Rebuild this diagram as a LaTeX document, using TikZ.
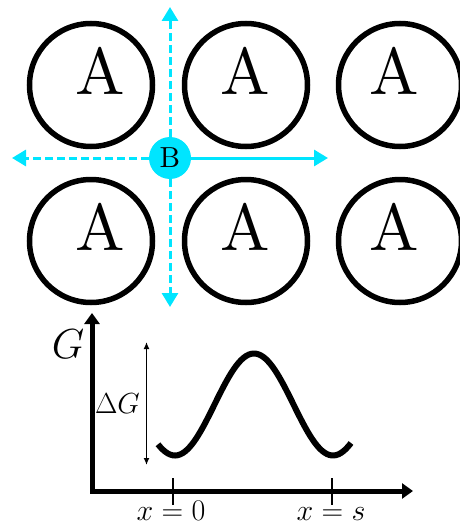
\documentclass[tikz,border=0pt]{standalone}
\usepackage{fix-cm}
\usepackage{amsmath}
\usepackage{tikz}
\usetikzlibrary{
  arrows.meta,
  positioning
}
\definecolor{ink}{HTML}{000000}
\definecolor{aqua}{HTML}{00E5FF}
\font\atomfont=cmr10 at 66pt
\font\hopfont=cmr10 at 29pt
\newcommand{\midsize}{\fontsize{29}{34}\selectfont}
\newcommand{\ticksize}{\fontsize{30}{35}\selectfont}
\tikzset{
  atom/.style={
    circle,
    draw=ink,
    line width=5.5pt,
    minimum size=123pt,
    inner sep=0pt
  },
  atomlabel/.style={
    inner sep=0pt,
    font=\atomfont
  },
  hopper/.style={
    circle,
    fill=aqua,
    minimum size=42pt,
    inner sep=0pt,
    font=\hopfont
  },
  hop/.style={
    -{Triangle[length=14pt,width=16pt]},
    line width=3pt,
    draw=aqua
  },
  hopdash/.style={
    hop,
    dash pattern=on 8pt off 4pt
  },
  axis/.style={
    {Triangle[length=11pt,width=15pt]}-{Triangle[length=11pt,width=15pt]},
    line width=5pt,
    draw=ink
  },
  barrier/.style={
    {Latex[length=7pt,width=6pt]}-{Latex[length=7pt,width=6pt]},
    line width=1.5pt,
    draw=ink
  },
  ticmark/.style={
    line width=2pt,
    draw=ink
  },
  axislabel/.style={
    inner sep=0pt,
    font=\midsize
  }
}

\begin{document}
\begin{tikzpicture}[x=1pt, y=-1pt]
  \useasboundingbox (0,0) rectangle (460,527);

  % lattice of A sites
  \foreach \x/\ax [count=\c] in {91/100,246/245,400/394}{
    \foreach \y [count=\r] in {85,241}{
      \node[atom] (ring\r\c) at (\x,\y) {};
      \node[atomlabel] (A\r\c) at (\ax,\y-13) {A};
    }
  }

  % the B atom and its hops
  \coordinate (up) at (170,7);
  \coordinate (down) at (170,307);
  \coordinate (back) at (12,158);
  \coordinate (fwd) at (328,158);
  \node[hopper] (B) at (170,158) {B};
  \foreach \e in {up,down,back}{
    \draw[hopdash] (B) -- (\e);
  }
  \draw[hop] (B) -- (fwd);

  % energy profile
  \coordinate (O) at (92,491);
  \coordinate (Gtop) at (92,313);
  \coordinate (xend) at (413,491);
  \draw[axis] (Gtop) -- (O) -- (xend);
  \node[axislabel, font=\fontsize{42}{46}\selectfont] (G) at (68,344) {$G$};

  \draw[line width=6pt, draw=ink]
    plot[domain=158:351, samples=80, smooth]
    (\x, {404.5+51*cos((\x-175)/158*360)});

  \coordinate (dtop) at (146.5,342);
  \coordinate (dbot) at (146.5,465);
  \draw[barrier] (dtop) -- (dbot);
  \node[axislabel] (dG) at (117.5,404) {$\Delta G$};

  \coordinate (t0a) at (173,478);
  \coordinate (t0b) at (173,505);
  \coordinate (tsa) at (332,478);
  \coordinate (tsb) at (332,505);
  \draw[ticmark] (t0a) -- (t0b);
  \draw[ticmark] (tsa) -- (tsb);
  \node[axislabel, font=\ticksize, anchor=base] (x0) at (171,520) {$x=0$};
  \node[axislabel, font=\ticksize, anchor=base] (xs) at (331,520) {$x=s$};
\end{tikzpicture}
\end{document}
